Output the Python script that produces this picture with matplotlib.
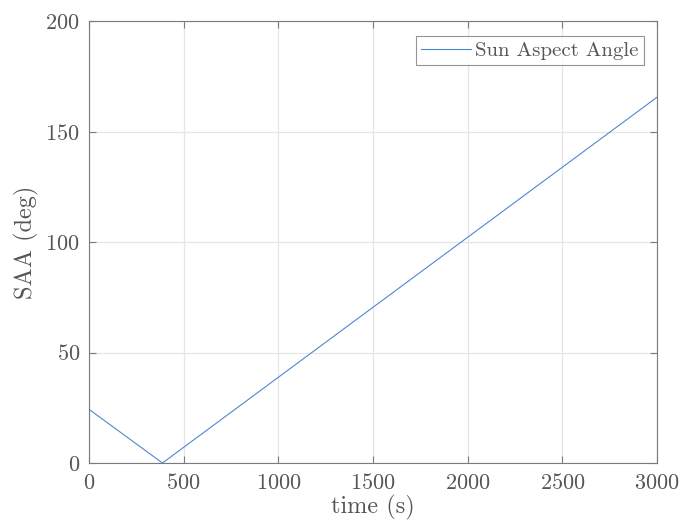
import matplotlib
matplotlib.use("Agg")
import matplotlib.pyplot as plt

# data
time_s = [0, 388, 3000]
saa_deg = [24.3, 0.0, 165.5]
xticks = [0, 500, 1000, 1500, 2000, 2500, 3000]
yticks = [0, 50, 100, 150, 200]

plt.rcParams['font.family'] = 'serif'
plt.rcParams['font.serif'] = ['cmr10']
plt.rcParams['mathtext.fontset'] = 'cm'
plt.rcParams['axes.formatter.use_mathtext'] = True

txt = '#555555'
spine = '#7a7a7a'

fig = plt.figure(figsize=(6.81, 5.27), dpi=100)
ax = fig.add_axes([89/681, 1-463/527, (657-89)/681, (463-21)/527])
ax.plot(time_s, saa_deg, color='#4d88d0', lw=0.8, label='Sun Aspect Angle')
ax.set_xlim(0, 3000)
ax.set_ylim(0, 200)
ax.set_xticks(xticks)
ax.set_yticks(yticks)
ax.grid(True, color='#e6e6e6', lw=0.9)
ax.set_axisbelow(True)
for s in ax.spines.values():
    s.set_color(spine)
    s.set_linewidth(0.8)
ax.tick_params(direction='in', length=5, width=0.8, color=spine, labelcolor=txt,
               labelsize=16, top=True, right=True)
ax.tick_params(axis='x', pad=7.5)
ax.tick_params(axis='y', pad=6.5)
ax.set_xlabel('time (s)', fontsize=17.5, color=txt, labelpad=1)
ax.set_ylabel('SAA (deg)', fontsize=17.5, color=txt, labelpad=5)
leg = ax.legend(loc='upper right', bbox_to_anchor=(1 - 13/568, 1 - 15/442),
                fontsize=15, frameon=True, fancybox=False,
                edgecolor=spine, handlelength=2.4, borderpad=0.25,
                borderaxespad=0.0, handletextpad=0.2)
leg.get_frame().set_linewidth(0.8)
for t in leg.get_texts():
    t.set_color(txt)
fig.savefig('out.png', dpi=100)
